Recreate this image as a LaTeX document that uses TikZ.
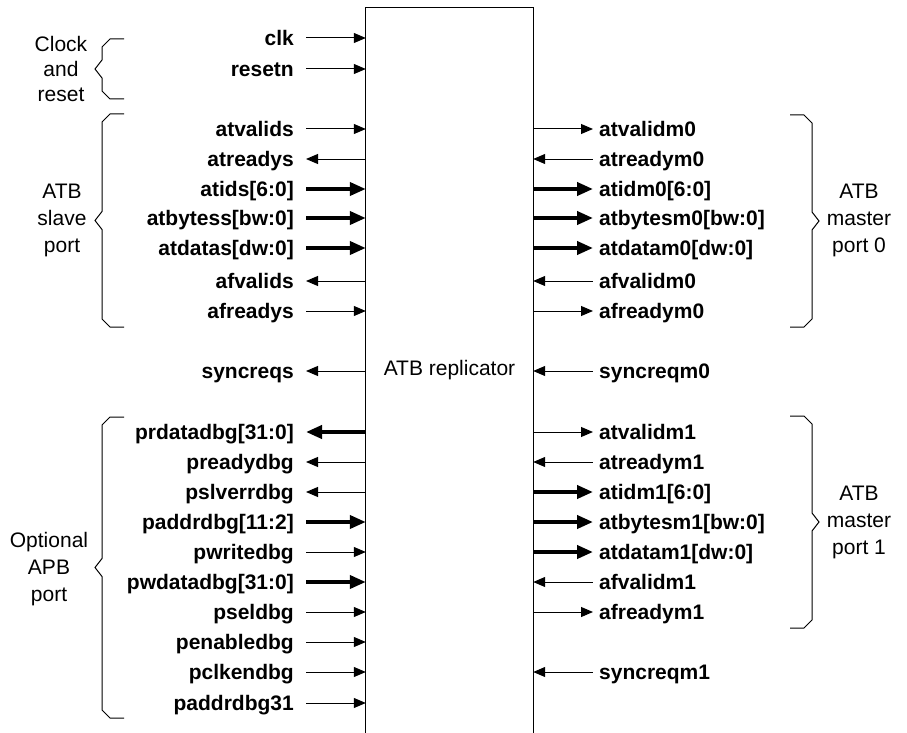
\documentclass[tikz,border=0pt]{standalone}
\usepackage{fontspec}
\setmainfont{Liberation Sans}
\usetikzlibrary{arrows.meta}

% square bracket brace: x of the open ends, top, bottom, side (1 = left, -1 = right)
\newcommand{\portbrace}[4]{%
  \draw[brace] (#1,#2) -- ({#1-14*#4},#2) -- ({#1-22*#4},{#2+8})
    -- ({#1-22*#4},{(#2+#3)/2-9}) -- ({#1-29*#4},{(#2+#3)/2})
    -- ({#1-22*#4},{(#2+#3)/2+9}) -- ({#1-22*#4},{#3-8})
    -- ({#1-14*#4},#3) -- (#1,#3);}

\tikzset{
  >={Triangle[length=12pt,width=10pt]},
  lsig/.style={anchor=east, inner sep=0pt, text height=15pt, text depth=0pt,
    font=\fontsize{21}{25}\selectfont\bfseries},
  rsig/.style={anchor=west, inner sep=0pt, text height=15pt, text depth=0pt,
    font=\fontsize{21}{25}\selectfont\bfseries},
  lwire/.style={line width=1pt, shorten <=12pt},
  rwire/.style={line width=1pt, shorten >=6pt},
  bus/.style={line width=3.8pt, >={Triangle[length=16pt,width=13pt]}},
  grp/.style={align=center, font=\fontsize{21}{27}\selectfont},
  brace/.style={line width=1pt},
}

\begin{document}
\begin{tikzpicture}[x=1pt,y=-1pt]
  \useasboundingbox (0,0) rectangle (907,733);

  % replicator block, open at the bottom
  \node[minimum width=167pt, minimum height=724pt, inner sep=0pt,
    font=\fontsize{21}{25}\selectfont] (rep) at (449.5,370) {ATB replicator};
  \draw[line width=1pt] ([yshift=-12pt]rep.south west) -- (rep.north west)
    -- (rep.north east) -- ([yshift=-12pt]rep.south east);

  % slave side signals
  \node[lsig] (clk) at (294,38) {clk};
  \node[lsig] (resetn) at (294,69) {resetn};
  \node[lsig] (atvalids) at (294,129) {atvalids};
  \node[lsig] (atreadys) at (294,159) {atreadys};
  \node[lsig] (atids) at (294,189) {atids[6:0]};
  \node[lsig] (atbytess) at (294,218) {atbytess[bw:0]};
  \node[lsig] (atdatas) at (294,248) {atdatas[dw:0]};
  \node[lsig] (afvalids) at (294,281) {afvalids};
  \node[lsig] (afreadys) at (294,311) {afreadys};
  \node[lsig] (syncreqs) at (294,371) {syncreqs};
  \node[lsig] (prdatadbg) at (294,432) {prdatadbg[31:0]};
  \node[lsig] (preadydbg) at (294,462) {preadydbg};
  \node[lsig] (pslverrdbg) at (294,492) {pslverrdbg};
  \node[lsig] (paddrdbg) at (294,522) {paddrdbg[11:2]};
  \node[lsig] (pwritedbg) at (294,552) {pwritedbg};
  \node[lsig] (pwdatadbg) at (294,582) {pwdatadbg[31:0]};
  \node[lsig] (pseldbg) at (294,612) {pseldbg};
  \node[lsig] (penabledbg) at (294,642) {penabledbg};
  \node[lsig] (pclkendbg) at (294,672) {pclkendbg};
  \node[lsig] (paddrdbgmsb) at (294,703) {paddrdbg31};

  \draw[lwire,->] (clk.east) -- (clk.east -| rep.west);
  \draw[lwire,->] (resetn.east) -- (resetn.east -| rep.west);
  \draw[lwire,->] (atvalids.east) -- (atvalids.east -| rep.west);
  \draw[lwire,<-] (atreadys.east) -- (atreadys.east -| rep.west);
  \draw[lwire,bus,->] (atids.east) -- (atids.east -| rep.west);
  \draw[lwire,bus,->] (atbytess.east) -- (atbytess.east -| rep.west);
  \draw[lwire,bus,->] (atdatas.east) -- (atdatas.east -| rep.west);
  \draw[lwire,<-] (afvalids.east) -- (afvalids.east -| rep.west);
  \draw[lwire,->] (afreadys.east) -- (afreadys.east -| rep.west);
  \draw[lwire,<-] (syncreqs.east) -- (syncreqs.east -| rep.west);
  \draw[lwire,bus,<-] (prdatadbg.east) -- (prdatadbg.east -| rep.west);
  \draw[lwire,<-] (preadydbg.east) -- (preadydbg.east -| rep.west);
  \draw[lwire,<-] (pslverrdbg.east) -- (pslverrdbg.east -| rep.west);
  \draw[lwire,bus,->] (paddrdbg.east) -- (paddrdbg.east -| rep.west);
  \draw[lwire,->] (pwritedbg.east) -- (pwritedbg.east -| rep.west);
  \draw[lwire,bus,->] (pwdatadbg.east) -- (pwdatadbg.east -| rep.west);
  \draw[lwire,->] (pseldbg.east) -- (pseldbg.east -| rep.west);
  \draw[lwire,->] (penabledbg.east) -- (penabledbg.east -| rep.west);
  \draw[lwire,->] (pclkendbg.east) -- (pclkendbg.east -| rep.west);
  \draw[lwire,->] (paddrdbgmsb.east) -- (paddrdbgmsb.east -| rep.west);

  % master side signals
  \node[rsig] (atvalidmA) at (599,129) {atvalidm0};
  \node[rsig] (atreadymA) at (599,159) {atreadym0};
  \node[rsig] (atidmA) at (599,189) {atidm0[6:0]};
  \node[rsig] (atbytesmA) at (599,218) {atbytesm0[bw:0]};
  \node[rsig] (atdatamA) at (599,248) {atdatam0[dw:0]};
  \node[rsig] (afvalidmA) at (599,281) {afvalidm0};
  \node[rsig] (afreadymA) at (599,311) {afreadym0};
  \node[rsig] (syncreqmA) at (599,371) {syncreqm0};
  \node[rsig] (atvalidmB) at (599,432) {atvalidm1};
  \node[rsig] (atreadymB) at (599,462) {atreadym1};
  \node[rsig] (atidmB) at (599,492) {atidm1[6:0]};
  \node[rsig] (atbytesmB) at (599,522) {atbytesm1[bw:0]};
  \node[rsig] (atdatamB) at (599,552) {atdatam1[dw:0]};
  \node[rsig] (afvalidmB) at (599,582) {afvalidm1};
  \node[rsig] (afreadymB) at (599,612) {afreadym1};
  \node[rsig] (syncreqmB) at (599,672) {syncreqm1};

  \draw[rwire,->] (atvalidmA.west -| rep.east) -- (atvalidmA.west);
  \draw[rwire,<-] (atreadymA.west -| rep.east) -- (atreadymA.west);
  \draw[rwire,bus,->] (atidmA.west -| rep.east) -- (atidmA.west);
  \draw[rwire,bus,->] (atbytesmA.west -| rep.east) -- (atbytesmA.west);
  \draw[rwire,bus,->] (atdatamA.west -| rep.east) -- (atdatamA.west);
  \draw[rwire,<-] (afvalidmA.west -| rep.east) -- (afvalidmA.west);
  \draw[rwire,->] (afreadymA.west -| rep.east) -- (afreadymA.west);
  \draw[rwire,<-] (syncreqmA.west -| rep.east) -- (syncreqmA.west);
  \draw[rwire,->] (atvalidmB.west -| rep.east) -- (atvalidmB.west);
  \draw[rwire,<-] (atreadymB.west -| rep.east) -- (atreadymB.west);
  \draw[rwire,bus,->] (atidmB.west -| rep.east) -- (atidmB.west);
  \draw[rwire,bus,->] (atbytesmB.west -| rep.east) -- (atbytesmB.west);
  \draw[rwire,bus,->] (atdatamB.west -| rep.east) -- (atdatamB.west);
  \draw[rwire,<-] (afvalidmB.west -| rep.east) -- (afvalidmB.west);
  \draw[rwire,->] (afreadymB.west -| rep.east) -- (afreadymB.west);
  \draw[rwire,<-] (syncreqmB.west -| rep.east) -- (syncreqmB.west);

  % port groups
  \portbrace{124}{39}{99}{1}
  \portbrace{124}{114}{327}{1}
  \portbrace{124}{417}{718}{1}
  \portbrace{790}{115}{327}{-1}
  \portbrace{790}{416}{628}{-1}

  \node[grp, font=\fontsize{21}{25}\selectfont] (clkgrp) at (61,69) {Clock\\and\\reset};
  \node[grp] (slavegrp) at (62,220) {ATB\\slave\\port};
  \node[grp] (apbgrp) at (49,569) {Optional\\APB\\port};
  \node[grp] (mastergrpA) at (859,220) {ATB\\master\\port 0};
  \node[grp] (mastergrpB) at (859,522) {ATB\\master\\port 1};
\end{tikzpicture}
\end{document}
